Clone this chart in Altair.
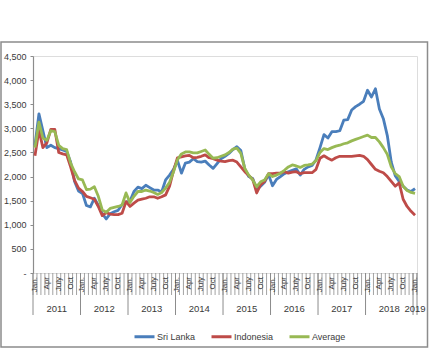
import altair as alt
import pandas as pd

# ---- data (monthly, Jan 2011 .. Jan 2019) ----
sri_lanka = [
    2650, 3300, 2950, 2600, 2650, 2600, 2580, 2550, 2520, 2300, 1900, 1700,   # 2011
    1650, 1400, 1370, 1550, 1400, 1230, 1120, 1230, 1270, 1300, 1420, 1470,   # 2012
    1490, 1690, 1780, 1750, 1820, 1770, 1720, 1720, 1680, 1930, 2030, 2150,   # 2013
    2330, 2070, 2280, 2300, 2370, 2310, 2300, 2320, 2240, 2170, 2270, 2370,   # 2014
    2420, 2480, 2560, 2620, 2540, 2160, 2000, 1960, 1730, 1800, 1880, 2040,   # 2015
    1810, 1940, 2000, 2060, 2100, 2130, 2160, 2030, 2150, 2200, 2230, 2350,   # 2016
    2600, 2870, 2800, 2930, 2930, 2950, 3170, 3180, 3380, 3450, 3500, 3560,   # 2017
    3790, 3650, 3820, 3400, 3200, 2850, 2300, 2020, 1900, 1800, 1720, 1690,   # 2018
    1750,                                                                     # 2019
]
indonesia = [
    2430, 2960, 2600, 2700, 2980, 2980, 2500, 2470, 2450, 2200, 1920, 1760,
    1690, 1590, 1560, 1530, 1380, 1190, 1250, 1220, 1210, 1210, 1240, 1480,
    1380, 1450, 1510, 1530, 1550, 1580, 1580, 1550, 1580, 1620, 1800, 2120,
    2390, 2410, 2430, 2440, 2390, 2400, 2420, 2450, 2390, 2370, 2340, 2320,
    2310, 2330, 2340, 2300, 2200, 2100, 2020, 1940, 1660, 1830, 1900, 2060,
    2060, 2070, 2070, 2100, 2070, 2090, 2100, 2060, 2080, 2080, 2080, 2150,
    2380, 2430, 2380, 2340, 2390, 2420, 2420, 2420, 2420, 2430, 2440, 2420,
    2350, 2250, 2150, 2110, 2080, 2000, 1900, 1800, 1870, 1530, 1380, 1280,
    1200,
]
average = [
    2600, 3130, 2800, 2750, 2950, 2930, 2650, 2580, 2560, 2280, 2100, 1950,
    1930, 1730, 1740, 1790, 1590, 1310, 1260, 1340, 1360, 1380, 1410, 1660,
    1460, 1590, 1690, 1690, 1720, 1700, 1670, 1630, 1670, 1760, 1880, 2100,
    2350, 2470, 2510, 2510, 2490, 2490, 2520, 2550, 2460, 2380, 2390, 2420,
    2450, 2500, 2570, 2590, 2480, 2170, 2030, 1930, 1790, 1890, 1930, 2060,
    2000, 2030, 2070, 2130, 2200, 2240, 2220, 2190, 2230, 2240, 2260, 2330,
    2500, 2580, 2560, 2600, 2630, 2650, 2680, 2700, 2740, 2770, 2800, 2830,
    2860, 2810, 2810, 2720, 2600, 2460, 2200, 2060, 2000, 1800, 1710, 1670,
    1650,
]
series_names = ["Sri Lanka", "Indonesia", "Average"]
series_colors = ["#4A7EBB", "#BE4B48", "#98B954"]
years = ["2011", "2012", "2013", "2014", "2015", "2016", "2017", "2018", "2019"]
year_centers = [5.5, 17.5, 29.5, 41.5, 53.5, 65.5, 77.5, 89.5, 96]
year_bounds = [-0.5, 11.5, 23.5, 35.5, 47.5, 59.5, 71.5, 83.5, 95.5, 96.5]
month_bounds = [i - 0.5 for i in range(98)]
quarter_ticks = list(range(0, 97, 3))
quarter_names = ["Jan.", "Apr", "July", "Oct"] * 8 + ["Jan."]
y_ticks = list(range(0, 4501, 500))

FONT = "Liberation Sans Narrow, Arial Narrow, Liberation Sans, sans-serif"
GRAY = "#8c8c8c"
TXT = "#3a3a3a"

rows = []
for name, vals in zip(series_names, [sri_lanka, indonesia, average]):
    for i, v in enumerate(vals):
        rows.append({"month": i, "value": v, "series": name})
df = pd.DataFrame(rows)

xscale = alt.Scale(domain=[-0.5, 96.5], nice=False, zero=False)

lines = alt.Chart(df).mark_line(strokeWidth=2.8, strokeJoin="round").encode(
    x=alt.X("month:Q", scale=xscale,
            axis=alt.Axis(values=quarter_ticks, title=None, grid=False,
                          labels=False, ticks=False,
                          domainColor=GRAY, domainWidth=1.2)),
    y=alt.Y("value:Q", scale=alt.Scale(domain=[0, 4500], nice=False),
            axis=alt.Axis(values=y_ticks, title=None, grid=False,
                          labelExpr="datum.value == 0 ? '-\u00a0\u00a0' : format(datum.value, ',')",
                          tickSize=3, tickColor=GRAY, labelPadding=4,
                          labelFont=FONT, labelFontSize=9, labelColor=TXT,
                          domainColor=GRAY, domainWidth=1.2)),
    color=alt.Color("series:N",
                    scale=alt.Scale(domain=series_names, range=series_colors),
                    legend=alt.Legend(orient="none", legendX=100, legendY=269,
                                      direction="horizontal", title=None,
                                      symbolType="stroke", symbolSize=400,
                                      symbolStrokeWidth=3, labelFont=FONT,
                                      labelFontSize=9, labelColor=TXT,
                                      columnPadding=9, labelOffset=1, padding=0)),
    detail="series:N",
    order="month:Q",
)

mtext = alt.Chart(pd.DataFrame({"m": quarter_ticks, "lab": quarter_names})).mark_text(
    font=FONT, fontSize=8, color=TXT, angle=270, align="right", baseline="middle").encode(
    x=alt.X("m:Q", scale=xscale, axis=None),
    y=alt.value(221), text="lab:N")

msep = alt.Chart(pd.DataFrame({"b": month_bounds})).mark_rule(
    color=GRAY, strokeWidth=0.8).encode(
    x=alt.X("b:Q", scale=xscale, axis=None),
    y=alt.value(217), y2=alt.value(239))

ysep = alt.Chart(pd.DataFrame({"b": year_bounds})).mark_rule(
    color=GRAY, strokeWidth=1).encode(
    x=alt.X("b:Q", scale=xscale, axis=None),
    y=alt.value(217), y2=alt.value(259))

ytext = alt.Chart(pd.DataFrame({"c": year_centers, "year": years})).mark_text(
    font=FONT, fontSize=9.5, color=TXT, baseline="middle").encode(
    x=alt.X("c:Q", scale=xscale, axis=None),
    y=alt.value(253), text="year:N")

frame = alt.Chart(pd.DataFrame({"a": [0]})).mark_rect(
    fillOpacity=0, stroke=GRAY, strokeWidth=1.5).encode(
    x=alt.value(-32), x2=alt.value(394.5), y=alt.value(-14), y2=alt.value(291))

chart = alt.layer(lines, frame, msep, ysep, mtext, ytext).properties(
    width=384, height=217,
    autosize=alt.AutoSizeParams(type="none"),
    padding={"left": 33, "top": 56, "right": 12, "bottom": 83},
).configure_view(stroke=None).configure(background="white")

chart.save("out.html", embed_options={"renderer": "svg", "actions": False})
